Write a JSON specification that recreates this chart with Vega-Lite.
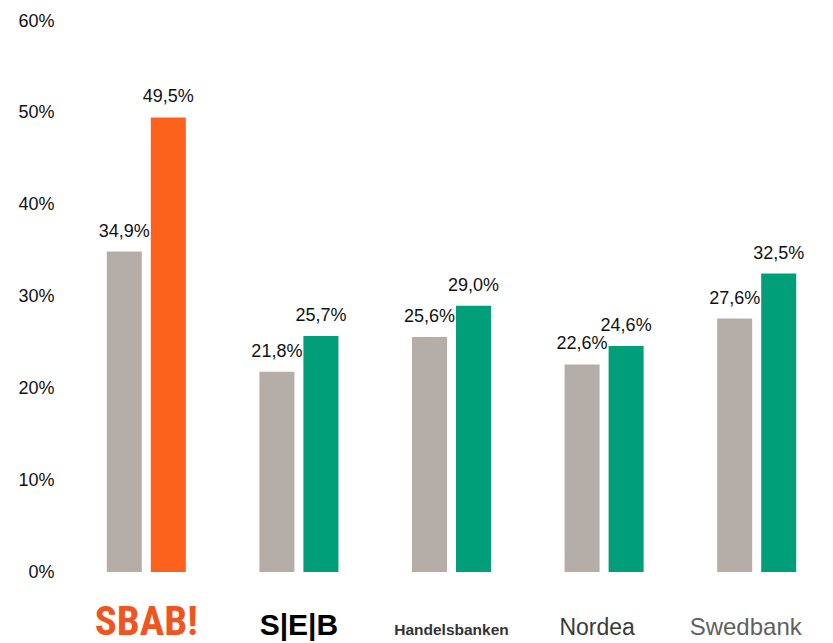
{
  "$schema": "https://vega.github.io/schema/vega-lite/v6.json",
  "width": 763,
  "height": 551,
  "autosize": "none",
  "padding": {"left": 70, "top": 21, "right": 0, "bottom": 71},
  "background": "white",
  "config": {
    "view": {"stroke": null},
    "font": "Liberation Sans",
    "locale": {
      "number": {"decimal": ",", "thousands": "\u00a0", "grouping": [3], "currency": ["", " kr"]}
    }
  },
  "data": {
    "values": [
      {"bank": "SBAB", "period": "1", "value": 0.349},
      {"bank": "SBAB", "period": "2", "value": 0.495},
      {"bank": "SEB", "period": "1", "value": 0.218},
      {"bank": "SEB", "period": "2", "value": 0.257},
      {"bank": "Handelsbanken", "period": "1", "value": 0.256},
      {"bank": "Handelsbanken", "period": "2", "value": 0.290},
      {"bank": "Nordea", "period": "1", "value": 0.226},
      {"bank": "Nordea", "period": "2", "value": 0.246},
      {"bank": "Swedbank", "period": "1", "value": 0.276},
      {"bank": "Swedbank", "period": "2", "value": 0.325}
    ]
  },
  "encoding": {
    "x": {
      "field": "bank",
      "type": "nominal",
      "sort": ["SBAB", "SEB", "Handelsbanken", "Nordea", "Swedbank"],
      "scale": {"paddingInner": 0.482, "paddingOuter": 0.241},
      "axis": {
        "title": null,
        "domain": false,
        "ticks": false,
        "tickSize": 0,
        "labelAngle": 0,
        "labelBaseline": "alphabetic",
        "labelPadding": 62,
        "labelExpr": "datum.value == 'SBAB' ? 'SBAB!' : datum.value == 'SEB' ? 'S|E|B' : datum.value",
        "labelOffset": {
          "condition": [
            {"test": "datum.value == 'Nordea'", "value": -7},
            {"test": "datum.value == 'Swedbank'", "value": -11}
          ],
          "value": 0
        },
        "labelFontSize": {
          "condition": [
            {"test": "datum.value == 'SBAB'", "value": 41},
            {"test": "datum.value == 'SEB'", "value": 30},
            {"test": "datum.value == 'Handelsbanken'", "value": 15.5},
            {"test": "datum.value == 'Nordea'", "value": 23}
          ],
          "value": 24
        },
        "labelFont": {
          "condition": {"test": "datum.value == 'SBAB'", "value": "'Roboto Condensed', 'Liberation Sans Narrow', 'Liberation Sans'"},
          "value": "Liberation Sans"
        },
        "labelFontWeight": {
          "condition": {"test": "datum.value == 'SBAB' || datum.value == 'SEB' || datum.value == 'Handelsbanken'", "value": "bold"},
          "value": "normal"
        },
        "labelColor": {
          "condition": [
            {"test": "datum.value == 'SBAB'", "value": "#EE5520"},
            {"test": "datum.value == 'SEB'", "value": "#000000"},
            {"test": "datum.value == 'Handelsbanken'", "value": "#333333"},
            {"test": "datum.value == 'Nordea'", "value": "#3a3a3a"}
          ],
          "value": "#5f5f5f"
        }
      }
    },
    "xOffset": {
      "field": "period",
      "type": "nominal",
      "scale": {"paddingInner": 0.2045, "paddingOuter": 0}
    },
    "y": {
      "field": "value",
      "type": "quantitative",
      "scale": {"domain": [0, 0.6], "nice": false},
      "axis": {
        "title": null,
        "values": [0, 0.1, 0.2, 0.3, 0.4, 0.5, 0.6],
        "format": ".0%",
        "grid": false,
        "domain": false,
        "ticks": false,
        "tickSize": 0,
        "labelPadding": 16,
        "labelFontSize": 18,
        "labelColor": "#111111",
        "labelFont": "Liberation Sans"
      }
    }
  },
  "layer": [
    {
      "mark": {"type": "bar"},
      "encoding": {
        "color": {
          "condition": [
            {"test": "datum.period == '1'", "value": "#B5ADA8"},
            {"test": "datum.bank == 'SBAB'", "value": "#FD621C"}
          ],
          "value": "#009F79"
        }
      }
    },
    {
      "mark": {"type": "text", "baseline": "alphabetic", "dy": -15, "fontSize": 18, "color": "#111111", "font": "Liberation Sans"},
      "encoding": {
        "text": {"field": "value", "type": "quantitative", "format": ".1%"}
      }
    }
  ]
}
